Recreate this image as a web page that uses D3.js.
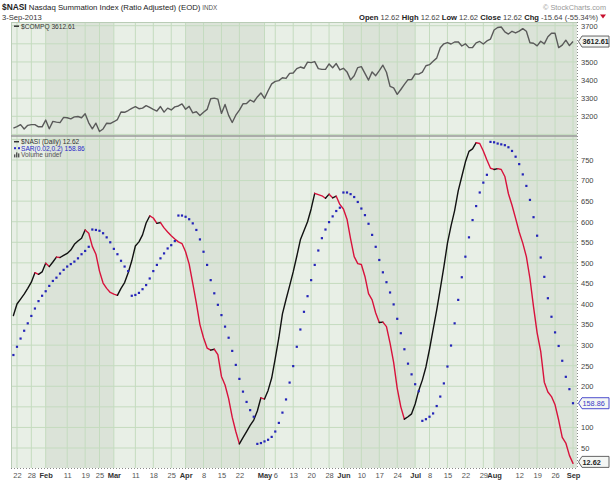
<!DOCTYPE html>
<html><head><meta charset="utf-8">
<script src="https://cdnjs.cloudflare.com/ajax/libs/d3/7.8.5/d3.min.js"></script>
<style>
body{margin:0;background:#fff}
svg{display:block;font-family:"Liberation Sans",Arial,sans-serif}
</style>
</head><body><svg id="c" width="610" height="480"></svg>
<script>
// ---------- data ----------
const startDate = "2013-01-18", endDate = "2013-09-03";
const holidays = ["2013-01-21","2013-02-18","2013-03-29","2013-05-27","2013-07-04","2013-09-02"];

const nasi = [372,400,412,424,438,453,476,472,478,499,
 491,502,514,513,518,523,531,545,553,560,
 580,572,540,521,480,451,438,428,424,421,
 438,452,476,505,541,551,568,597,614,609,
 596,598,585,575,566,558,551,547,527,497,
 450,402,350,318,293,288,290,277,224,203,
 170,125,90,60,75,90,105,118,140,172,
 169,190,220,268,318,376,411,444,478,516,
 556,578,600,631,669,666,663,657,667,658,
 662,642,631,606,558,515,498,496,467,425,
 410,378,355,356,345,305,258,195,150,120,
 126,133,157,190,215,247,290,338,385,437,
 490,548,590,627,675,710,745,771,777,792,
 790,772,750,730,727,729,727,710,668,640,
 608,575,548,515,462,393,330,285,210,186,
 175,155,118,76,62,32,12.62];

const sar = [276,296,316,335,353,371,389,407,420,431,
 444,456,464,474,483,491,497,503,511,521,
 529,539,581,580,578,572,562,550,534,521,
 505,491,480,420,422,427,436,446,462,480,
 495,511,523,535,543,553,615,615,612,606,
 596,580,557,527,495,458,426,398,373,345,
 318,286,252,218,187,162,142,126,60,62,
 66,70,77,90,111,136,168,209,249,296,
 338,381,419,458,495,530,560,581,599,613,
 626,634,671,671,667,660,648,632,616,595,
 568,539,507,477,453,428,399,364,329,290,
 255,229,205,188,116,120,126,134,152,175,
 207,248,299,353,410,465,515,562,604,638,
 671,695,714,794,793,790,788,786,781,772,
 758,740,715,687,653,611,566,513,466,414,
 369,331,298,262,223,193,158.86];

const compq = [3135,3143,3154,3130,3150,3154,3154,3142,3142,
 3179,3131,3172,3168,3165,3194,3192,3186,3197,3199,3192,3214,3164,3131,3162,3116,3130,3162,3160,
 3170,3182,3224,3222,3232,3244,3253,3242,3245,3259,3249,3238,3229,3254,3223,3245,3235,3252,3257,3268,
 3239,3255,3219,3225,3204,3222,3238,3297,3300,3295,3216,3265,3205,3166,3206,3234,3269,3270,3290,3279,3307,3329,
 3299,3341,3379,3393,3397,3413,3409,3437,3439,3463,3472,3465,3499,3496,3502,3463,3459,3459,3489,3468,3491,3456,
 3465,3445,3401,3424,3469,3474,3437,3400,3445,3424,3452,3482,3443,3365,3357,3321,3348,3376,3402,3403,
 3434,3433,3444,3479,3485,3504,3521,3578,3600,3607,3599,3610,3611,3588,3600,3579,3580,3605,3613,3599,3616,3626,
 3676,3690,3693,3666,3654,3669,3660,3670,3684,3669,3606,3603,3589,3614,3600,3639,3658,3658,3579,3593,3620,3590,
 3612.61];

const tickDates = ["2013-01-22","2013-01-28","2013-02-01","2013-02-11","2013-02-19","2013-02-25","2013-03-01","2013-03-11","2013-03-18","2013-03-25","2013-04-01","2013-04-08","2013-04-15","2013-04-22","2013-05-01","2013-05-06","2013-05-13","2013-05-20","2013-05-28","2013-06-03","2013-06-10","2013-06-17","2013-06-24","2013-07-01","2013-07-08","2013-07-15","2013-07-22","2013-07-29","2013-08-01","2013-08-12","2013-08-19","2013-08-26","2013-09-03"];
const tickLabels = ["22","28","Feb","11","19","25","Mar","11","18","25","Apr","8","15","22","May","6","13","20","28","Jun","10","17","24","Jul","8","15","22","29","Aug","12","19","26","Sep"];
const shadeStarts = ["2013-02-01","2013-04-01","2013-06-03","2013-08-01"];
const shadeEnds   = ["2013-03-01","2013-05-01","2013-07-01",null];
const compqTicks = [3200,3300,3400,3500,3700];
const compqGrid = [3100,3200,3300,3400,3500,3600,3700];
const nasiTicks = [50,100,200,250,300,350,400,450,500,550,600,650,700,750];
const nasiGrid = [0,50,100,150,200,250,300,350,400,450,500,550,600,650,700,750,800];

// ---------- setup ----------
const parse = d3.utcParse("%Y-%m-%d"), fmt = d3.utcFormat("%Y-%m-%d");
const days = d3.utcDay.range(parse(startDate), d3.utcDay.offset(parse(endDate), 1))
  .filter(d => d.getUTCDay() % 6 !== 0 && !holidays.includes(fmt(d)));
const idx = new Map(days.map((d, i) => [fmt(d), i]));

const L = 11, R = 577, T1 = 22, B1 = 136, B2 = 468;
const x = d3.scaleLinear().domain([0, days.length - 1]).range([13.4, 573]);
const yTop = d3.scaleLinear().domain([3200, 3700]).range([116.3, 25.7]);
const yBot = d3.scaleLinear().domain([50, 750]).range([448, 160]);

const svg = d3.select("#c");
const BG = "#e8efe6", SHADE = "#dbe3d8", GRID = "#c4dbbf";

svg.append("defs").call(d => {
  d.append("clipPath").attr("id", "cTop").append("rect").attr("x", L).attr("y", T1).attr("width", R - L).attr("height", B1 - T1);
  d.append("clipPath").attr("id", "cBot").append("rect").attr("x", L).attr("y", B1).attr("width", R - L).attr("height", B2 - B1);
});

function panel(y0, y1, yScale, grid) {
  const g = svg.append("g");
  g.append("rect").attr("x", L).attr("y", y0).attr("width", R - L).attr("height", y1 - y0).attr("fill", BG);
  shadeStarts.forEach((s, k) => {
    const xa = x(idx.get(s)), xb = shadeEnds[k] ? x(idx.get(shadeEnds[k])) : R;
    g.append("rect").attr("x", xa).attr("y", y0).attr("width", xb - xa).attr("height", y1 - y0).attr("fill", SHADE);
  });
  g.selectAll(".vg").data(tickDates).join("line")
    .attr("x1", d => x(idx.get(d))).attr("x2", d => x(idx.get(d)))
    .attr("y1", y0).attr("y2", y1).attr("stroke", GRID).attr("stroke-width", 1);
  g.selectAll(".hg").data(grid.filter(v => yScale(v) > y0 + 0.5 && yScale(v) < y1 - 0.5)).join("line")
    .attr("x1", L).attr("x2", R).attr("y1", d => yScale(d)).attr("y2", d => yScale(d))
    .attr("stroke", GRID).attr("stroke-width", 1);
  g.append("line").attr("x1", L + 0.5).attr("x2", L + 0.5).attr("y1", y0).attr("y2", y1).attr("stroke", "#b9ccb6");
  return g;
}
panel(T1, B1, yTop, compqGrid);
panel(B1, B2, yBot, nasiGrid);

svg.append("line").attr("x1", L).attr("x2", R).attr("y1", T1 + 0.5).attr("y2", T1 + 0.5).attr("stroke", "#b9ccb6");
svg.append("line").attr("x1", L).attr("x2", R).attr("y1", B1).attr("y2", B1).attr("stroke", "#9a9a9a").attr("stroke-width", 1.5);
svg.append("line").attr("x1", L).attr("x2", R + 1).attr("y1", B2 + 0.5).attr("y2", B2 + 0.5)
  .attr("stroke", "#888").attr("stroke-dasharray", "1,2");
svg.append("line").attr("x1", R + 0.5).attr("x2", R + 0.5).attr("y1", T1).attr("y2", B2)
  .attr("stroke", "#888").attr("stroke-dasharray", "1,2");

// ---------- COMPQ ----------
svg.append("path").datum(compq).attr("clip-path", "url(#cTop)")
  .attr("d", d3.line().x((d, i) => x(i)).y(d => yTop(d)))
  .attr("fill", "none").attr("stroke", "#5a5a5a").attr("stroke-width", 1.4).attr("stroke-linejoin", "round");

// ---------- NASI colored by change ----------
const runs = [];
for (let i = 1; i < nasi.length; i++) {
  const c = nasi[i] < nasi[i - 1] ? "#d8123c" : "#111";
  const last = runs[runs.length - 1];
  if (last && last.c === c) last.pts.push(i);
  else runs.push({ c, pts: [i - 1, i] });
}
const gN = svg.append("g").attr("clip-path", "url(#cBot)");
gN.selectAll("path").data(runs).join("path")
  .attr("d", r => d3.line().x(i => x(i)).y(i => yBot(nasi[i]))(r.pts))
  .attr("fill", "none").attr("stroke", r => r.c).attr("stroke-width", 1.4)
  .attr("stroke-linejoin", "round").attr("stroke-linecap", "round");

// ---------- SAR ----------
gN.selectAll("rect.sar").data(sar).join("rect").attr("class", "sar")
  .attr("x", (d, i) => x(i) - 1.1).attr("y", d => yBot(d) - 1.1)
  .attr("width", 2.2).attr("height", 2.2).attr("fill", "#2424b8");

// ---------- axes ----------
const axR1 = svg.append("g").attr("transform", `translate(${R},0)`)
  .call(d3.axisRight(yTop).tickValues(compqTicks).tickFormat(d3.format("d")).tickSize(0).tickPadding(4));
const axR2 = svg.append("g").attr("transform", `translate(${R},0)`)
  .call(d3.axisRight(yBot).tickValues(nasiTicks).tickFormat(d3.format("d")).tickSize(0).tickPadding(4));
const axB = svg.append("g").attr("transform", `translate(0,${B2})`)
  .call(d3.axisBottom(x).tickValues(tickDates.map(d => idx.get(d))).tickFormat((d, k) => tickLabels[k]).tickSize(0).tickPadding(5));
[axR1, axR2, axB].forEach(a => {
  a.select(".domain").remove();
  a.selectAll("text").attr("font-family", "'Liberation Sans',Arial,sans-serif").attr("font-size", 7.5).attr("fill", "#444");
});
axB.selectAll("text").attr("font-weight", (d, k) => /^[A-Z]/.test(tickLabels[k]) ? "bold" : "normal")
  .attr("fill", (d, k) => /^[A-Z]/.test(tickLabels[k]) ? "#333" : "#555");

// ---------- value boxes ----------
function valBox(v, y, stroke, color, bold) {
  const g = svg.append("g");
  g.append("path").attr("d", `M${R + 1.5},${y} L${R + 5},${y - 5.5} L609,${y - 5.5} L609,${y + 5.5} L${R + 5},${y + 5.5} Z`)
    .attr("fill", "#f4f6f4").attr("stroke", stroke).attr("stroke-width", 0.9);
  g.append("text").attr("x", R + 5.5).attr("y", y + 2.7).attr("font-size", 7.3).attr("font-weight", bold ? "bold" : "normal")
    .attr("fill", color).text(v);
}
valBox("3612.61", yTop(compq[compq.length - 1]), "#555", "#222", true);
valBox("158.86", yBot(sar[sar.length - 1]), "#3a3ac8", "#3a3ac8", false);
valBox("12.62", yBot(nasi[nasi.length - 1]) - 1.5, "#555", "#222", true);

// ---------- legends ----------
function legend(y, sym, txt, color) {
  const g = svg.append("g");
  if (sym === "line") g.append("line").attr("x1", 14).attr("x2", 19).attr("y1", y - 2.3).attr("y2", y - 2.3).attr("stroke", color).attr("stroke-width", 1.5);
  if (sym === "dot") { g.append("rect").attr("x", 14).attr("y", y - 3.5).attr("width", 2).attr("height", 2).attr("fill", color);
    g.append("rect").attr("x", 18).attr("y", y - 3.5).attr("width", 2).attr("height", 2).attr("fill", color); }
  if (sym === "bars") [[14,3],[16,5],[18,4]].forEach(([bx, h]) => g.append("rect").attr("x", bx).attr("y", y - h).attr("width", 1.4).attr("height", h).attr("fill", "#555"));
  g.append("text").attr("x", 21).attr("y", y).attr("font-size", 6.6).attr("fill", color).text(txt);
}
legend(28.5, "line", "$COMPQ  3612.61", "#333");
legend(144, "line", "$NASI (Daily) 12.62", "#333");
legend(150.7, "dot", "SAR(0.02,0.2) 158.86", "#2a2ac8");
legend(157.4, "bars", "Volume undef", "#555");

// ---------- header ----------
const h1 = svg.append("text").attr("x", 2).attr("y", 10).attr("font-size", 7.8).attr("fill", "#222");
h1.append("tspan").attr("font-weight", "bold").attr("font-size", 8.4).text("$NASI");
h1.append("tspan").text(" Nasdaq Summation Index (Ratio Adjusted) (EOD)");
h1.append("tspan").attr("font-size", 6.3).attr("fill", "#555").text("  INDX");
svg.append("text").attr("x", 606).attr("y", 10).attr("text-anchor", "end").attr("font-size", 7.3).attr("fill", "#999").text("© StockCharts.com");
svg.append("text").attr("x", 2).attr("y", 19.5).attr("font-size", 7.6).attr("fill", "#333").text("3-Sep-2013");
const h2 = svg.append("text").attr("x", 598).attr("y", 19.5).attr("text-anchor", "end").attr("font-size", 7.6).attr("fill", "#444");
[["Open", "12.62"], ["High", "12.62"], ["Low", "12.62"], ["Close", "12.62"], ["Chg", "-15.64 (-55.34%)"]].forEach(([k, v], j) => {
  h2.append("tspan").attr("font-weight", "bold").attr("fill", "#222").text((j ? " " : "") + k + " ");
  h2.append("tspan").text(v);
});
svg.append("path").attr("d", "M600,14.5 L606,14.5 L603,18.5 Z").attr("fill", "#c8102e");
</script>
</body></html>
